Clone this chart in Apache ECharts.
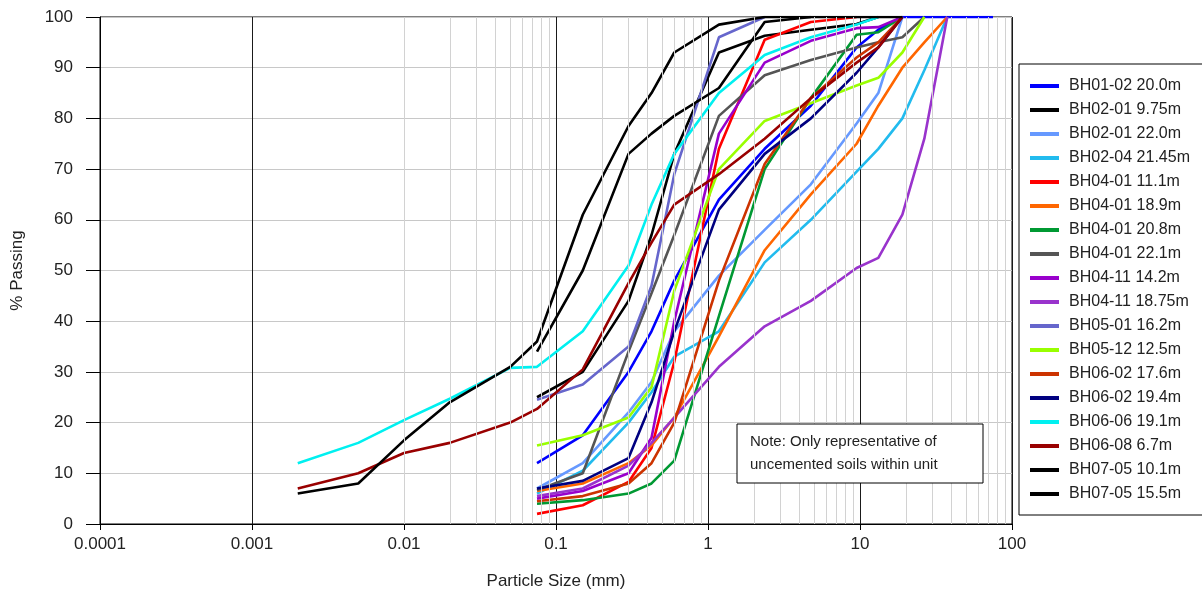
<!DOCTYPE html>
<html>
<head>
<meta charset="utf-8">
<script src="https://cdn.jsdelivr.net/npm/echarts@6/dist/echarts.min.js"></script>
<style>
  html, body { margin: 0; padding: 0; background: #fff; }
  #chart { width: 1202px; height: 599px; }
</style>
</head>
<body>
<div id="chart"></div>
<script>
// sieve sizes (mm) and hydrometer sizes (mm)
const sieve = [0.075, 0.15, 0.3, 0.425, 0.6, 1.18, 2.36, 4.75, 9.5, 13.2, 19, 26.5, 37.5, 53, 75];
const hydro = [0.002, 0.005, 0.01, 0.02, 0.05];
const xTicks = ['0.0001', '0.001', '0.01', '0.1', '1', '10', '100'];

// % passing
const bh0102_200 = [12, 17.5, 30, 38, 48, 64, 74, 82.5, 94, 97.5, 100, 100, 100, 100, 100];
const bh0201_975 = [25, 30, 44, 57, 73, 93, 96.3, 97.5, 98.6, 100];
const bh0201_220 = [7, 12, 22, 28, 38, 49, 58, 67, 79, 85, 100];
const bh0204_2145 = [6, 10.5, 20, 26, 33, 38, 51.6, 60, 69.5, 74, 80, 89.5, 100];
const bh0401_111 = [2, 3.7, 8.3, 15, 32, 74, 95.5, 99, 100];
const bh0401_189 = [6.5, 8, 12, 15.5, 21, 37, 54, 65, 75, 82.5, 90, 95, 100];
const bh0401_208 = [4, 4.7, 6, 8, 12.5, 41, 70, 84, 96.5, 97, 100];
const bh0401_221 = [6.7, 10, 34, 45.5, 57, 80.5, 88.5, 91.5, 94, 95, 96, 100];
const bh0411_142 = [5, 6.5, 10, 17, 40, 77, 91, 95.3, 97.8, 98, 100];
const bh0411_1875 = [5.5, 7, 11.5, 16, 21, 31, 39, 44, 50.5, 52.5, 61, 76, 100];
const bh0501_162 = [24.5, 27.5, 35, 47, 69, 96, 100];
const bh0512_125 = [15.5, 17.5, 21, 27, 46, 70, 79.5, 83, 86.5, 88, 93, 100];
const bh0602_176 = [4.5, 5.5, 8, 12, 20, 48, 71, 84, 92, 95, 100];
const bh0602_194 = [7, 8.5, 13, 24, 38, 62, 73, 80, 89, 94, 100];
const bh0606_191_h = [12, 16, 20.5, 24.7, 30.8];
const bh0606_191 = [31, 38, 51, 63, 73, 85, 92.5, 96, 98.5, 100];
const bh0608_67_h = [7, 10, 14, 16, 20];
const bh0608_67 = [22.7, 30.5, 47.5, 55.5, 63, 69, 76, 84, 91, 94, 100];
const bh0705_101_h = [6, 8, 16.5, 24, 31];
const bh0705_101 = [36, 61, 78.5, 85, 93, 98.5, 100, 100, 100, 100, 100];
const bh0705_155 = [34, 50, 73, 77, 80.5, 86, 99, 100];

function pts(sizes, vals) {
  return vals.map((v, i) => [sizes[i], v]);
}

const seriesDefs = [
  ['BH01-02 20.0m', '#0000ff', [], bh0102_200],
  ['BH02-01 9.75m', '#000000', [], bh0201_975],
  ['BH02-01 22.0m', '#6699ff', [], bh0201_220],
  ['BH02-04 21.45m', '#22bbee', [], bh0204_2145],
  ['BH04-01 11.1m', '#ff0000', [], bh0401_111],
  ['BH04-01 18.9m', '#ff6600', [], bh0401_189],
  ['BH04-01 20.8m', '#009933', [], bh0401_208],
  ['BH04-01 22.1m', '#555555', [], bh0401_221],
  ['BH04-11 14.2m', '#9900cc', [], bh0411_142],
  ['BH04-11 18.75m', '#9933cc', [], bh0411_1875],
  ['BH05-01 16.2m', '#6666cc', [], bh0501_162],
  ['BH05-12 12.5m', '#99ff00', [], bh0512_125],
  ['BH06-02 17.6m', '#cc3300', [], bh0602_176],
  ['BH06-02 19.4m', '#000080', [], bh0602_194],
  ['BH06-06 19.1m', '#00f0f0', bh0606_191_h, bh0606_191],
  ['BH06-08 6.7m', '#990000', bh0608_67_h, bh0608_67],
  ['BH07-05 10.1m', '#000000', bh0705_101_h, bh0705_101],
  ['BH07-05 15.5m', '#000000', [], bh0705_155]
];

// minor log grid lines (2..9 of each decade)
const minorX = [];
for (let e = -4; e < 2; e++) {
  for (let m = 2; m <= 9; m++) minorX.push(Number((m * Math.pow(10, e)).toPrecision(2)));
}

const font = 'Liberation Sans, Arial, sans-serif';
const chart = echarts.init(document.getElementById('chart'));

const series = [{
  name: 'grid',
  type: 'line',
  data: [],
  silent: true,
  z: 1,
  markLine: {
    silent: true,
    symbol: ['none', 'none'],
    label: { show: false },
    lineStyle: { color: '#d2d2d2', width: 1, type: 'solid' },
    emphasis: { disabled: true },
    data: minorX.map(v => ({ xAxis: v }))
  }
}];

seriesDefs.forEach(([name, color, h, s]) => {
  series.push({
    name: name,
    type: 'line',
    data: pts(hydro, h).concat(pts(sieve, s)),
    symbol: 'none',
    z: 3,
    lineStyle: { color: color, width: 2.6 },
    itemStyle: { color: color }
  });
});

chart.setOption({
  animation: false,
  backgroundColor: '#fff',
  grid: {
    left: 100, right: 190, top: 17, bottom: 75,
    show: true, borderColor: '#000', borderWidth: 1, backgroundColor: 'transparent'
  },
  legend: {
    data: seriesDefs.map(d => d[0]),
    orient: 'vertical',
    left: 1019, top: 64,
    padding: [14, 40, 13, 11],
    borderColor: '#000', borderWidth: 1,
    itemWidth: 29, itemHeight: 4, itemGap: 8,
    icon: 'rect',
    textStyle: { fontFamily: font, fontSize: 16, color: '#222', padding: [0, 0, 0, 5] }
  },
  xAxis: {
    type: 'log',
    logBase: 10,
    min: 0.0001, max: 100,
    name: 'Particle Size (mm)',
    nameLocation: 'middle',
    nameGap: 49,
    nameTextStyle: { fontFamily: font, fontSize: 17, color: '#222' },
    axisLine: { lineStyle: { color: '#000', width: 1 } },
    axisTick: { show: true, length: 6, lineStyle: { color: '#000' } },
    axisLabel: {
      fontFamily: font, fontSize: 17, color: '#222', margin: 12,
      formatter: v => xTicks[Math.round(Math.log10(v)) + 4]
    },
    splitLine: { show: true, lineStyle: { color: '#1a1a1a', width: 1 } }
  },
  yAxis: {
    type: 'value',
    min: 0, max: 100, interval: 10,
    name: '% Passing',
    nameLocation: 'middle',
    nameGap: 74,
    nameTextStyle: { fontFamily: font, fontSize: 17, color: '#222' },
    axisLine: { show: true, lineStyle: { color: '#000', width: 1 } },
    axisTick: { show: true, length: 14, lineStyle: { color: '#000' } },
    axisLabel: { fontFamily: font, fontSize: 17, color: '#222', margin: 27 },
    splitLine: { show: true, lineStyle: { color: '#c8c8c8', width: 1 } }
  },
  graphic: [{
    type: 'rect',
    z: 100,
    shape: { x: 737, y: 424, width: 246, height: 59 },
    style: { fill: '#fff', stroke: '#000', lineWidth: 1 }
  }, {
    type: 'text',
    z: 101,
    x: 750, y: 430,
    style: {
      text: 'Note: Only representative of\nuncemented soils within unit',
      fontFamily: font, fontSize: 15, lineHeight: 23, fill: '#222'
    }
  }],
  series: series
});
</script>
</body>
</html>
